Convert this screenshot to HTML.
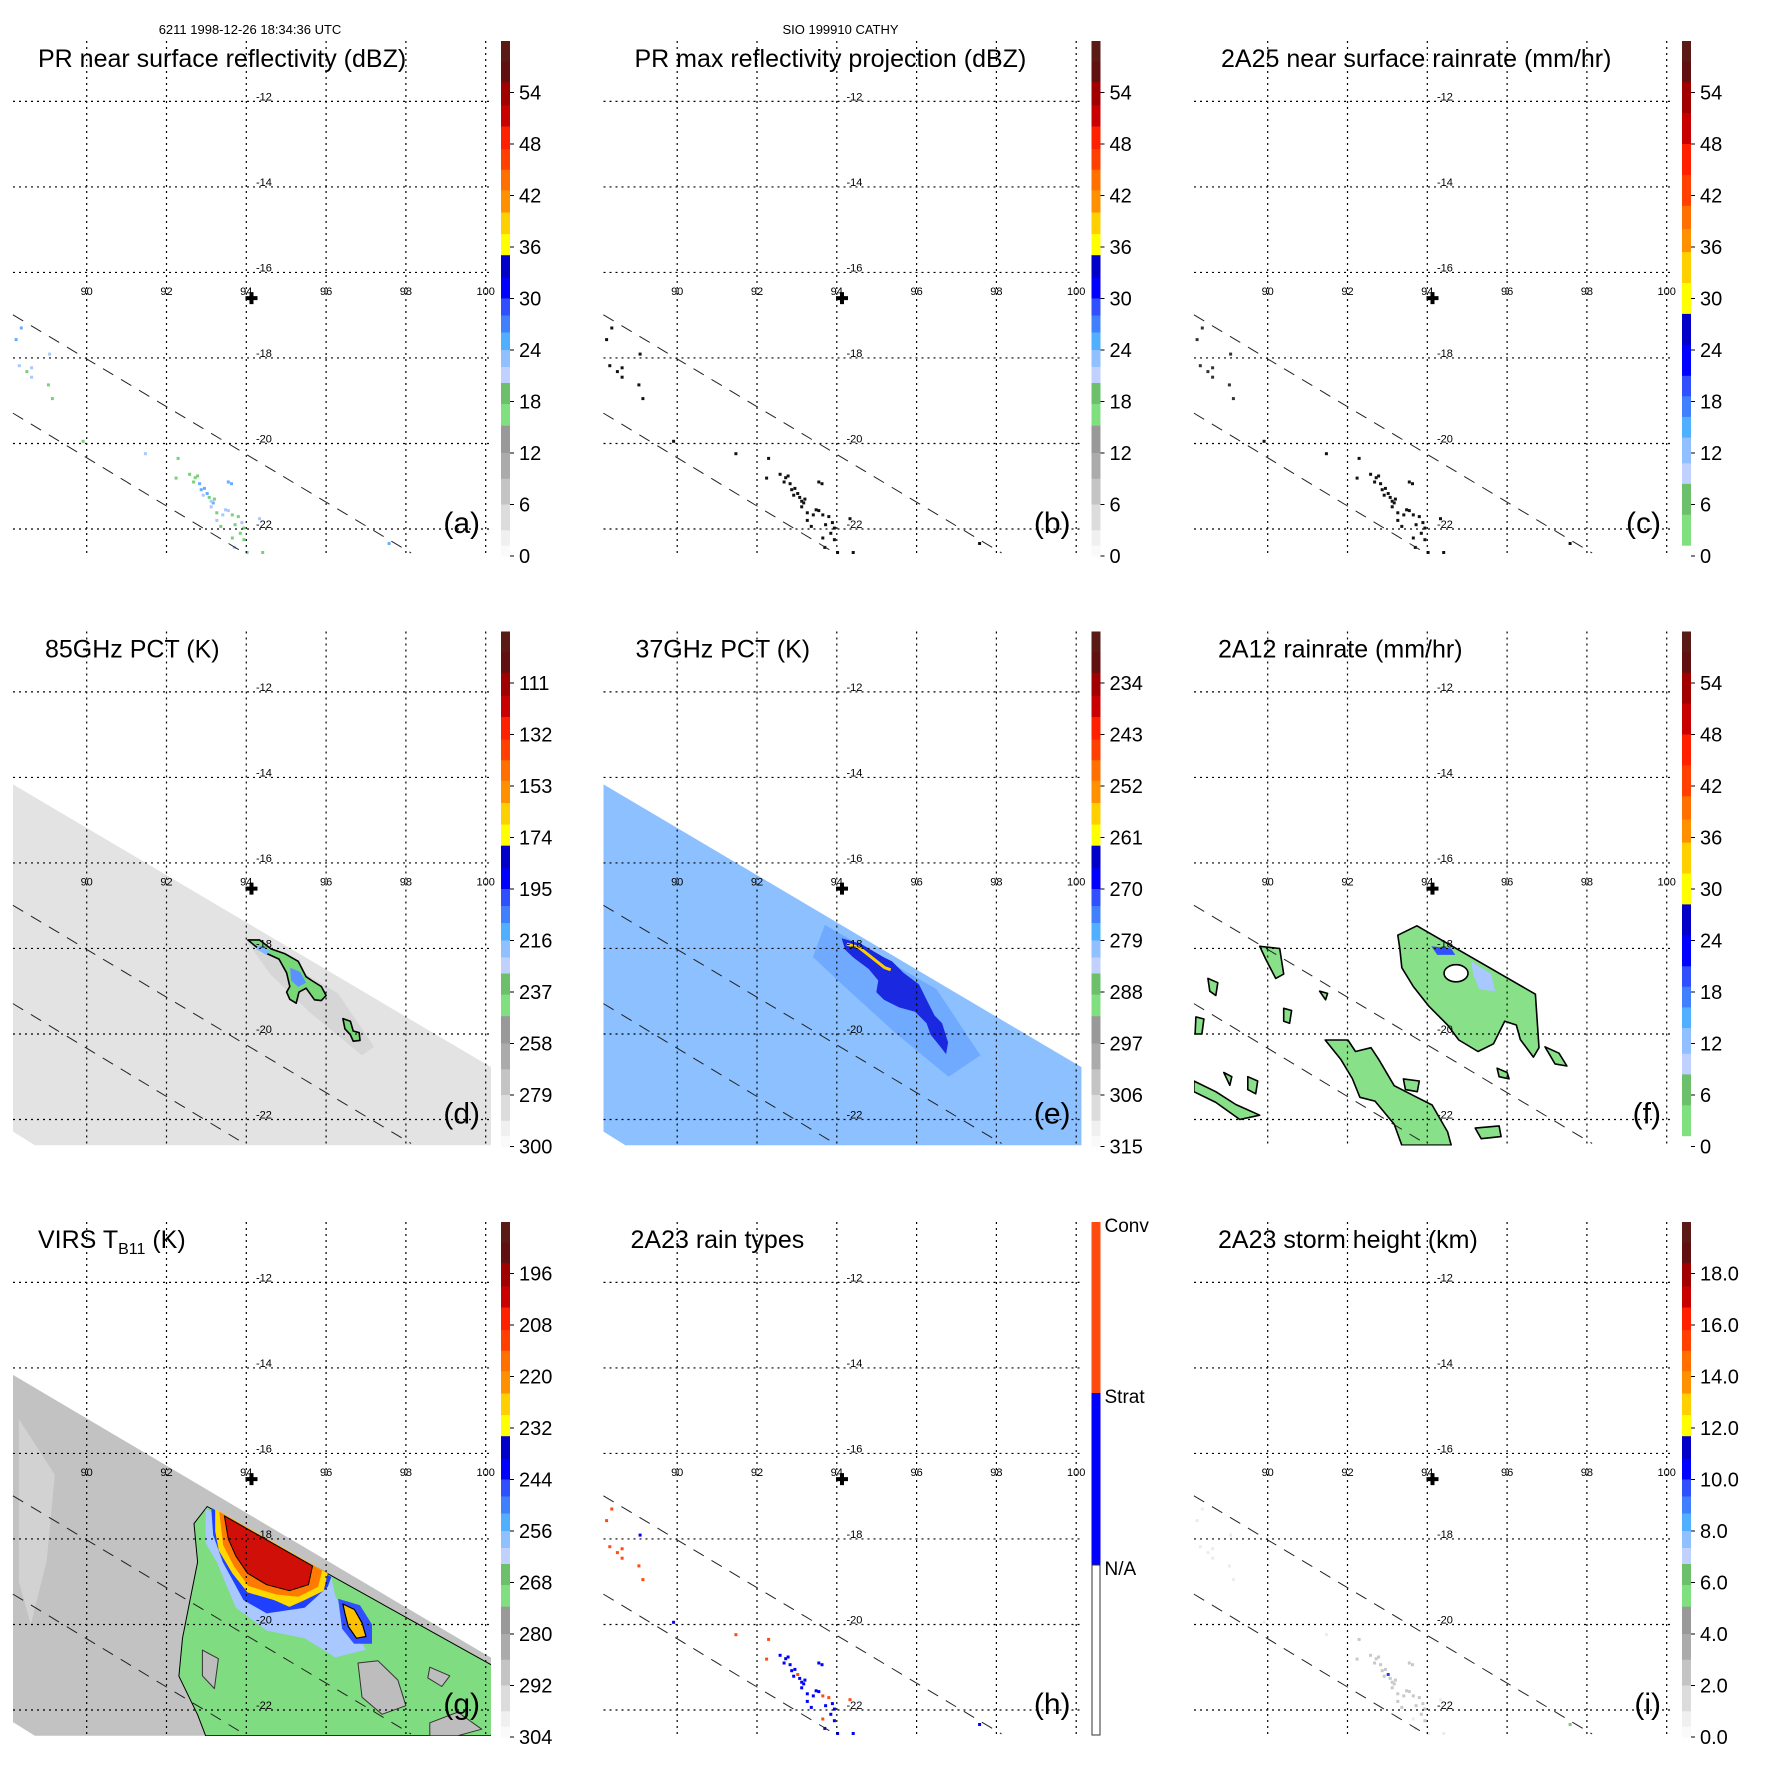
<!DOCTYPE html>
<html><head><meta charset="utf-8"><style>
html,body{margin:0;padding:0;background:#fff;}
svg{display:block;font-family:"Liberation Sans",sans-serif;}
</style></head><body>
<svg id="fig" xmlns="http://www.w3.org/2000/svg" width="1771" height="1771" viewBox="0 0 1771 1771">
<rect width="1771" height="1771" fill="#fff"/>
</svg>
<script>
// ---- data ----
const lonTicks = [90, 92, 94, 96, 98, 100];
const latTicks = [-12, -14, -16, -18, -20, -22];
const centerLon = 94.13, centerLat = -16.6;
const swathEdge1 = [[88.15, -16.99], [98.13, -22.56]];
const swathEdge2 = [[88.15, -19.29], [94.0, -22.59]];
const tmiSwath = [[88.15,-14.16],[100.16,-20.79],[100.16,-22.6],[88.7,-22.6],[88.15,-22.28]];
const barLabelsRefl = ["54","48","42","36","30","24","18","12","6","0"];
const barLabels85 = ["111","132","153","174","195","216","237","258","279","300"];
const barLabels37 = ["234","243","252","261","270","279","288","297","306","315"];
const barLabelsVirs = ["196","208","220","232","244","256","268","280","292","304"];
const barLabelsHt = ["18.0","16.0","14.0","12.0","10.0","8.0","6.0","4.0","2.0","0.0"];
const prLon = [88.36,88.23,89.07,88.31,88.50,88.62,88.62,89.04,89.14,89.91,91.47,92.29,92.24,92.58,92.68,92.83,92.87,92.92,93.07,93.17,93.12,93.26,93.41,93.55,93.65,93.80,93.89,93.94,93.26,93.36,93.55,93.63,93.65,93.70,93.94,94.02,94.41,92.78,93.02,93.12,97.58,94.33,92.72,92.95,93.20,93.48,93.72,93.85];
const prLat = [-17.30,-17.57,-17.91,-18.18,-18.32,-18.23,-18.45,-18.63,-18.95,-19.95,-20.24,-20.35,-20.81,-20.72,-20.90,-20.94,-21.08,-21.21,-21.26,-21.39,-21.48,-21.62,-21.67,-21.57,-21.67,-21.71,-21.85,-21.98,-21.80,-21.94,-20.90,-20.94,-22.21,-22.43,-22.25,-22.55,-22.55,-20.76,-21.17,-21.35,-22.34,-21.76,-20.80,-21.05,-21.30,-21.55,-21.90,-22.10];
const prRefl = [26,24,22,22,20,22,22,20,18,18,22,18,18,18,20,24,24,22,18,24,22,20,22,22,20,18,22,20,22,18,26,24,18,22,20,18,18,18,24,22,26,22,20,24,18,22,20,18];
const prType = [2,2,1,2,2,2,2,2,2,1,2,2,2,1,1,1,1,1,1,1,1,1,1,1,2,2,1,1,1,1,1,1,2,1,1,1,1,1,2,1,1,2,1,1,1,1,1,1];
const prHeight = [1.5,1.5,1.5,1.5,1.5,1.5,1.5,1.5,1.5,1.5,2,2.5,2.5,3,3,3,2.5,3,3,3,2.5,3,3,3,2.5,2.5,3,2.5,3,2.5,3,3,2,2,2.5,2,2,2.5,11,3,6,2,3,3,3,2.5,3,2.5];
const d85Outer = [[94.04,-17.80],[94.33,-17.80],[94.62,-18.01],[94.96,-18.12],[95.30,-18.30],[95.50,-18.66],[95.64,-18.75],[95.88,-18.89],[96.0,-19.10],[95.88,-19.22],[95.71,-19.20],[95.50,-18.93],[95.32,-19.02],[95.25,-19.28],[95.09,-19.19],[95.01,-19.02],[95.09,-18.89],[95.01,-18.57],[94.82,-18.25],[94.52,-18.12],[94.23,-17.95]];
const d85Blob2 = [[96.42,-19.64],[96.61,-19.70],[96.68,-19.93],[96.83,-19.97],[96.85,-20.15],[96.68,-20.17],[96.61,-20.02],[96.47,-19.88]];
const d85Blue = [[95.10,-18.45],[95.35,-18.55],[95.50,-18.80],[95.30,-18.90],[95.12,-18.75]];
const d85Blue2 = [[94.30,-17.90],[94.60,-18.05],[94.50,-18.15],[94.25,-18.02]];
const d85Dark = [[93.95,-17.75],[96.3,-19.05],[97.2,-20.3],[96.9,-20.5],[95.6,-19.5],[94.6,-18.6]];
const e37Blob = [[94.12,-17.76],[94.60,-17.89],[95.18,-18.21],[95.38,-18.30],[95.67,-18.57],[96.06,-18.84],[96.25,-19.20],[96.45,-19.57],[96.64,-19.75],[96.79,-20.20],[96.74,-20.47],[96.59,-20.29],[96.35,-20.02],[96.25,-19.75],[95.96,-19.48],[95.57,-19.38],[95.18,-19.20],[94.99,-19.02],[95.04,-18.75],[94.80,-18.48],[94.41,-18.21],[94.21,-18.03]];
const e37Mid = [[93.7,-17.45],[96.5,-18.95],[97.6,-20.5],[96.8,-21.0],[95.5,-20.0],[94.2,-18.9],[93.4,-18.2]];
const e37Yellow = [[94.25,-17.90],[94.55,-17.97],[95.2,-18.45],[95.35,-18.50]];
const f12Main = [[93.26,-17.69],[93.74,-17.47],[96.71,-19.07],[96.80,-20.32],[96.66,-20.54],[96.33,-20.13],[96.23,-19.79],[95.94,-19.70],[95.66,-20.23],[95.27,-20.41],[94.79,-20.14],[94.51,-19.79],[94.03,-19.34],[93.65,-18.89],[93.36,-18.45],[93.31,-18.0]];
const f12Band = [[91.44,-20.14],[92.01,-20.14],[92.20,-20.41],[92.59,-20.32],[92.78,-20.59],[93.17,-21.21],[93.74,-21.48],[94.12,-21.66],[94.51,-22.29],[94.60,-22.60],[93.36,-22.60],[93.17,-22.11],[92.69,-21.57],[92.31,-21.48],[92.12,-21.04],[91.83,-20.59]];
const f12Small = [
 [[93.40,-21.05],[93.80,-21.10],[93.75,-21.35],[93.45,-21.30]],
 [[95.20,-22.20],[95.80,-22.15],[95.85,-22.40],[95.35,-22.45]],
 [[96.95,-20.30],[97.30,-20.45],[97.50,-20.75],[97.20,-20.70]],
 [[95.75,-20.80],[96.00,-20.90],[96.05,-21.05],[95.80,-21.00]],
 [[88.15,-21.10],[88.70,-21.35],[89.20,-21.65],[89.80,-21.90],[89.30,-22.00],[88.70,-21.60],[88.15,-21.35]],
 [[89.80,-17.95],[90.30,-18.00],[90.40,-18.60],[90.20,-18.70],[89.95,-18.25]],
 [[88.20,-19.60],[88.40,-19.65],[88.35,-20.00],[88.18,-20.00]],
 [[88.50,-18.70],[88.75,-18.80],[88.70,-19.10],[88.55,-19.00]],
 [[90.40,-19.40],[90.60,-19.45],[90.55,-19.75],[90.40,-19.70]],
 [[91.30,-19.00],[91.50,-19.05],[91.45,-19.20]],
 [[88.90,-20.90],[89.10,-21.00],[89.05,-21.20]],
 [[89.50,-21.00],[89.75,-21.10],[89.70,-21.40],[89.50,-21.30]]];
const f12Blue = [[94.10,-17.95],[94.60,-18.00],[94.70,-18.15],[94.25,-18.15]];
const f12LightBlue = [[95.10,-18.30],[95.60,-18.60],[95.70,-19.00],[95.30,-18.95],[95.15,-18.60]];
const f12Hole = [94.72, -18.58, 0.30, 0.20];
const gGreen = [[93.02,-17.24],[100.15,-20.95],[100.15,-22.6],[92.98,-22.6],[92.78,-22.11],[92.31,-21.21],[92.40,-20.32],[92.59,-19.43],[92.78,-18.54],[92.69,-17.64]];
const gGrayHoles = [
 [[96.8,-20.9],[97.3,-20.85],[97.8,-21.3],[98.0,-21.9],[97.4,-22.1],[96.9,-21.7]],
 [[98.6,-22.3],[99.3,-22.05],[99.9,-22.45],[99.3,-22.6],[98.6,-22.6]],
 [[98.6,-21.0],[99.1,-21.2],[98.9,-21.45],[98.55,-21.25]],
 [[92.9,-20.6],[93.3,-20.8],[93.2,-21.5],[92.9,-21.2]]];
const gLightBlue = [[92.98,-17.29],[96.13,-18.89],[96.23,-19.34],[97.0,-20.59],[96.23,-20.77],[95.46,-20.32],[94.51,-20.14],[93.74,-19.61],[93.26,-18.54],[92.98,-18.09]];
const gBlue = [[93.12,-17.27],[96.13,-18.89],[96.04,-19.12],[95.46,-19.61],[94.51,-19.74],[93.93,-19.43],[93.41,-18.54],[93.17,-17.91]];
const gYellow = [[93.22,-17.30],[96.04,-18.80],[95.94,-19.21],[95.46,-19.43],[95.08,-19.59],[94.70,-19.43],[94.03,-19.25],[93.65,-18.80],[93.31,-18.27],[93.22,-17.82]];
const gOrange = [[93.32,-17.36],[95.90,-18.74],[95.80,-19.12],[95.30,-19.35],[94.75,-19.30],[94.05,-19.10],[93.70,-18.65],[93.42,-18.15]];
const gRed = [[93.45,-17.46],[95.66,-18.63],[95.56,-19.07],[95.08,-19.21],[94.51,-19.07],[94.03,-18.80],[93.74,-18.40],[93.55,-18.0]];
const gStorm2Blue = [[96.30,-19.40],[96.85,-19.55],[97.15,-20.00],[97.15,-20.45],[96.70,-20.45],[96.40,-20.10]];
const gStorm2Yellow = [[96.42,-19.52],[96.71,-19.65],[96.90,-19.96],[97.0,-20.28],[96.76,-20.32],[96.56,-20.05],[96.47,-19.74]];
const gLight = [[88.3,-15.2],[89.2,-16.5],[89.0,-18.5],[88.6,-20.0],[88.3,-19.0]];

const SVGNS = "http://www.w3.org/2000/svg";
const PITCH = 590.5;
function xS(lon){ return 86.7 + (lon - 90) * 39.9; }
function yS(lat){ return 101.4 + (-12 - lat) * 42.76; }
const PX0 = 13, PX1 = 491, PY0 = 41, PY1 = 555;
const BX = 501, BW = 9, BY0 = 41, BY1 = 556;
function el(tag, attrs, parent){
  const e = document.createElementNS(SVGNS, tag);
  for (const k in attrs) e.setAttribute(k, attrs[k]);
  if (parent) parent.appendChild(e);
  return e;
}
function pts(poly){ return poly.map(p => xS(p[0]).toFixed(1) + "," + yS(p[1]).toFixed(1)).join(" "); }
function poly(g, data, fill, stroke, name, sw){
  const p = el("polygon", {points: pts(data), fill: fill, stroke: stroke || "none", "stroke-width": sw || 1.6, "stroke-linejoin": "round"}, g);
  
  
  return p;
}
const segA = [[0,.04,"#5a1a16"],[.04,.08,"#601010"],[.08,.125,"#a00000"],[.125,.166,"#c80000"],[.166,.21,"#ff2000"],[.21,.25,"#ff4000"],[.25,.29,"#ff7000"],[.29,.333,"#ff9000"],[.333,.375,"#ffd000"],[.375,.416,"#ffff00"],[.416,.46,"#0000c8"],[.46,.5,"#0000ff"],[.5,.533,"#3050ff"],[.533,.566,"#4080ff"],[.566,.6,"#50b0ff"],[.6,.633,"#90c0ff"],[.633,.664,"#c0d0ff"],[.664,.705,"#6cc06c"],[.705,.747,"#80e080"],[.747,.8,"#999999"],[.8,.85,"#ababab"],[.85,.9,"#c4c4c4"],[.9,.95,"#dcdcdc"],[.95,.98,"#f0f0f0"],[.98,1,"#fafafa"]];
const segB = [[0,.04,"#5a1a16"],[.04,.08,"#601010"],[.08,.14,"#a00000"],[.14,.2,"#c80000"],[.2,.26,"#ff2000"],[.26,.32,"#ff4000"],[.32,.365,"#ff7000"],[.365,.41,"#ff9000"],[.41,.47,"#ffd000"],[.47,.53,"#ffff00"],[.53,.59,"#0000c8"],[.59,.65,"#0000ff"],[.65,.69,"#3050ff"],[.69,.73,"#4080ff"],[.73,.77,"#50b0ff"],[.77,.82,"#90c0ff"],[.82,.86,"#c0d0ff"],[.86,.92,"#6cc06c"],[.92,.98,"#80e080"],[.98,1,"#ffffff"]];
function reflColor(v){
  if (v >= 24) return "#6aaaff"; if (v >= 21) return "#a8c8ff"; return "#78d078";
}

const fig = document.getElementById("fig");

function panel(col, row, cfg){
  const g = el("g", {transform: "translate(" + (col*PITCH).toFixed(1) + "," + (row*PITCH).toFixed(1) + ")"}, fig);
  
  
  const clipId = "clip" + cfg.id;
  const cp = el("clipPath", {id: clipId}, g);
  el("rect", {x: PX0, y: PY0, width: PX1 - PX0, height: PY1 - PY0}, cp);
  const plot = el("g", {"clip-path": "url(#" + clipId + ")"}, g);
  
  
  if (cfg.draw) cfg.draw(plot);
  const grid = el("g", {stroke: "#000", "stroke-width": 1.2, "stroke-dasharray": "2,4"}, g);
  
  
  lonTicks.forEach(l => { const ln = el("line", {x1: xS(l), x2: xS(l), y1: PY0, y2: PY1}, grid);
      });
  latTicks.forEach(l => { const ln = el("line", {x1: PX0, x2: PX1, y1: yS(l), y2: yS(l)}, grid);
      });
  lonTicks.forEach(l => { const t = el("text", {x: xS(l), y: 295, "font-size": 11, "text-anchor": "middle"}, g); t.textContent = String(l);
      });
  latTicks.forEach(l => { const t = el("text", {x: 256, y: yS(l) - 1, "font-size": 11}, g); t.textContent = String(l);
      });
  [swathEdge1, swathEdge2].forEach(e => {
    const ln = el("line", {x1: xS(e[0][0]), y1: yS(e[0][1]), x2: xS(e[1][0]), y2: yS(e[1][1]), stroke: "#222", "stroke-width": 1, "stroke-dasharray": "12,9"}, g);
     
  });
  const cx = xS(centerLon), cy = yS(centerLat);
  const cr = el("path", {d: "M" + (cx-6) + "," + cy + "H" + (cx+6) + "M" + cx + "," + (cy-6) + "V" + (cy+6), stroke: "#000", "stroke-width": 4}, g);
   
  const t = el("text", {x: cfg.tx, y: 67, "font-size": 25}, g);
   
  if (cfg.sub) {
    t.appendChild(document.createTextNode(cfg.title));
    const ts = el("tspan", {"font-size": 16, dy: 6}, t); ts.textContent = cfg.sub;
    const ts2 = el("tspan", {dy: -6}, t); ts2.textContent = cfg.title2;
  } else t.textContent = cfg.title;
  const lt = el("text", {x: 480, y: 533, "font-size": 30, "text-anchor": "end"}, g);
  lt.textContent = "(" + cfg.id + ")";
   
  if (cfg.header) {
    const h = el("text", {x: 250, y: 34, "font-size": 13, "text-anchor": "middle"}, g);
    h.textContent = cfg.header;  
  }
  const cb = el("g", {}, g);
   
  const H = BY1 - BY0;
  if (cfg.bar === "types") {
    const yS1 = 212, yS2 = 384;
    el("rect", {x: BX, y: BY0, width: BW, height: yS1 - BY0, fill: "#ff4a10"}, cb);
    el("rect", {x: BX, y: yS1, width: BW, height: yS2 - yS1, fill: "#0000ff"}, cb);
    el("rect", {x: BX + 0.5, y: yS2, width: BW - 1, height: BY1 - yS2 - 2, fill: "#fff", stroke: "#333", "stroke-width": 1}, cb);
    [["Conv", BY0], ["Strat", yS1], ["N/A", yS2]].forEach(a => {
      const tt = el("text", {x: 514, y: a[1] + 10, "font-size": 19}, cb); tt.textContent = a[0];
       
    });
  } else {
    const seg = cfg.bar === "B" ? segB : segA;
    seg.forEach(s => el("rect", {x: BX, y: (BY0 + s[0]*H).toFixed(1), width: BW, height: ((s[1]-s[0])*H + 0.6).toFixed(1), fill: s[2]}, cb));
    cfg.labels.forEach((lab, i) => {
      const yy = BY0 + ((i + 1) * 6 / 60) * H;
      el("line", {x1: BX + BW, x2: BX + BW + 4, y1: yy, y2: yy, stroke: "#000", "stroke-width": 1}, cb);
      const tt = el("text", {x: 519, y: yy + 7, "font-size": 20}, cb); tt.textContent = lab;
       
    });
  }
}

function drawPoints(g, colorFn, name){
  prLon.forEach((lon, i) => {
    const c = colorFn(i); if (!c) return;
    const r = el("rect", {x: (xS(lon) - 1.5).toFixed(1), y: (yS(prLat[i]) - 1.5).toFixed(1), width: 3, height: 3, fill: c}, g);
     
  });
}

panel(0, 0, {id: "a", title: "PR near surface reflectivity (dBZ)", tx: 38, bar: "A", labels: barLabelsRefl, header: "6211 1998-12-26 18:34:36 UTC",
  draw: g => drawPoints(g, i => reflColor(prRefl[i]), "reflectivity-pixel")});
panel(1, 0, {id: "b", title: "PR max reflectivity projection (dBZ)", tx: 44, bar: "A", labels: barLabelsRefl, header: "SIO 199910 CATHY",
  draw: g => drawPoints(g, i => prRefl[i] > 0 ? "#111" : null, "max-reflectivity-pixel")});
panel(2, 0, {id: "c", title: "2A25 near surface rainrate (mm/hr)", tx: 40, bar: "B", labels: barLabelsRefl,
  draw: g => drawPoints(g, i => i > 8 ? "#111" : "#333", "rainrate-pixel")});
panel(0, 1, {id: "d", title: "85GHz PCT (K)", tx: 45, bar: "A", labels: barLabels85,
  draw: g => { poly(g, tmiSwath, "#e3e3e3", null, "tmi-swath");
    poly(g, d85Dark, "#d6d6d6", null, "cold-streak");
    poly(g, d85Outer, "#78d878", "#000", "pct85-storm");
    poly(g, d85Blue, "#5a90ff", null, "pct85-core");
    poly(g, d85Blue2, "#80b8ff", null, "pct85-core2");
    poly(g, d85Blob2, "#78d878", "#000", "pct85-cell"); }});
panel(1, 1, {id: "e", title: "37GHz PCT (K)", tx: 45, bar: "A", labels: barLabels37,
  draw: g => { poly(g, tmiSwath, "#8cc0ff", null, "tmi-swath");
    poly(g, e37Mid, "#70aaff", null, "pct37-rainband");
    poly(g, e37Blob, "#1a28e0", null, "pct37-storm");
    const yl = el("polyline", {points: pts(e37Yellow), stroke: "#ffd000", "stroke-width": 3, fill: "none"}, g);
      }});
panel(2, 1, {id: "f", title: "2A12 rainrate (mm/hr)", tx: 37, bar: "B", labels: barLabelsRefl,
  draw: g => { poly(g, f12Main, "#88e088", "#000", "rain-area-main");
    poly(g, f12Band, "#88e088", "#000", "rain-band");
    f12Small.forEach(s => poly(g, s, "#88e088", "#000", "rain-cell"));
    poly(g, f12Blue, "#3050ff", null, "rain-heavy");
    poly(g, f12LightBlue, "#a8c8ff", null, "rain-moderate");
    const h = el("ellipse", {cx: xS(f12Hole[0]), cy: yS(f12Hole[1]), rx: f12Hole[2]*39.9, ry: f12Hole[3]*42.76, fill: "#fff", stroke: "#000", "stroke-width": 1.6}, g);
      }});
panel(0, 2, {id: "g", title: "VIRS T", sub: "B11", title2: " (K)", tx: 38, bar: "A", labels: barLabelsVirs,
  draw: g => { poly(g, tmiSwath, "#c2c2c2", null, "virs-swath");
    poly(g, gLight, "#d2d2d2", null, "warm-clear-area");
    poly(g, gGreen, "#80dc80", "#000", "cloud-shield-green", 1);
    gGrayHoles.forEach(s => poly(g, s, "#bdbdbd", "#333", "clear-patch", 1));
    poly(g, gLightBlue, "#a8c8ff", null, "cloud-light-blue");
    poly(g, gBlue, "#2040ff", null, "cloud-blue");
    poly(g, gYellow, "#ffd800", null, "cloud-yellow");
    poly(g, gOrange, "#ff7a00", null, "cloud-orange");
    poly(g, gRed, "#d01008", "#000", "cloud-top-red", 1);
    poly(g, gStorm2Blue, "#3050ff", null, "cell2-blue");
    poly(g, gStorm2Yellow, "#ffc000", "#000", "cell2-yellow", 1.2); }});
panel(1, 2, {id: "h", title: "2A23 rain types", tx: 40, bar: "types",
  draw: g => drawPoints(g, i => prType[i] === 2 ? "#ff4a10" : "#0000ff", "rain-type-pixel")});
panel(2, 2, {id: "i", title: "2A23 storm height (km)", tx: 37, bar: "A", labels: barLabelsHt,
  draw: g => drawPoints(g, i => prHeight[i] > 10 ? "#2040ff" : (prHeight[i] > 5 ? "#70d070" : (prHeight[i] > 2 ? "#c8c8c8" : "#ececec")), "storm-height-pixel")});
</script>
</body></html>
